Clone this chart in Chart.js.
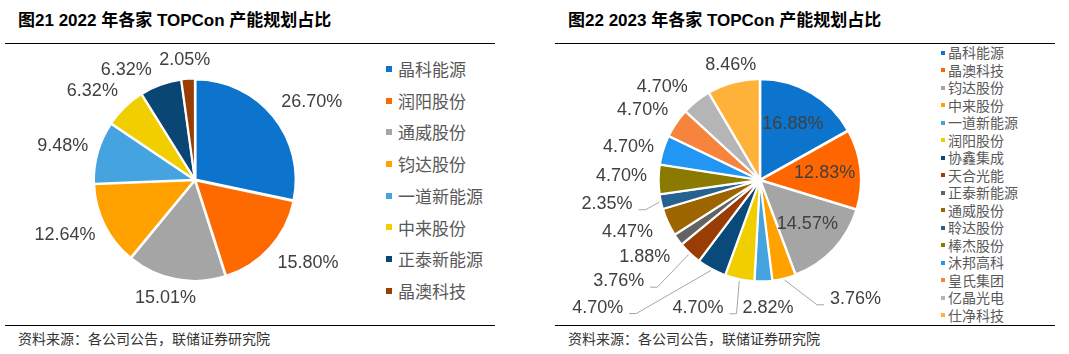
<!DOCTYPE html>
<html>
<head>
<meta charset="utf-8">
<script src="https://cdn.jsdelivr.net/npm/chart.js@4.4.1/dist/chart.umd.min.js"></script>
<style>
  body { margin: 0; background: #fff; width: 1069px; height: 354px; position: relative; overflow: hidden; }
  .title { position: absolute; top: 6px; font: bold 17px "Liberation Sans", "Noto Sans CJK SC", sans-serif; color: #000; white-space: nowrap; }
  .rule { position: absolute; height: 0; border-top: 1px solid #000; }
  .src { position: absolute; top: 328px; font: 14px "Noto Sans CJK SC", sans-serif; color: #333; white-space: nowrap; }
  .box { position: absolute; }
  .legend { position: absolute; font-family: "Noto Sans CJK SC", sans-serif; color: #595959; }
  .legend div { display: flex; align-items: center; white-space: nowrap; }
  .legend span { display: inline-block; }
</style>
</head>
<body>
<div class="title" style="left:18px">图21 2022 年各家 TOPCon 产能规划占比</div>
<div class="title" style="left:568px">图22 2023 年各家 TOPCon 产能规划占比</div>
<div class="rule" style="left:5px;width:490px;top:43px"></div>
<div class="rule" style="left:555px;width:500px;top:43px"></div>
<div class="rule" style="left:5px;width:490px;top:325px"></div>
<div class="rule" style="left:555px;width:500px;top:325px"></div>
<div class="src" style="left:18px">资料来源：各公司公告，联储证券研究院</div>
<div class="src" style="left:568px">资料来源：各公司公告，联储证券研究院</div>

<div class="box" style="left:0;top:45px;width:370px;height:275px"><canvas id="pie22"></canvas></div>
<div class="box" style="left:560px;top:45px;width:370px;height:275px"><canvas id="pie23"></canvas></div>
<div class="legend" id="leg22" style="left:386px;top:53px;font-size:17px;line-height:31.7px"></div>
<div class="legend" id="leg23" style="left:941px;top:44px;font-size:14px;line-height:17.5px"></div>

<script>
// 2022
var names22 = ['晶科能源', '润阳股份', '通威股份', '钧达股份', '一道新能源', '中来股份', '正泰新能源', '晶澳科技'];
var share22 = [26.70, 15.80, 15.01, 12.64, 9.48, 6.32, 6.32, 2.05];
var colors22 = ['#0C74CC', '#FF6A00', '#A5A5A5', '#FFA200', '#45A4E0', '#F0CE00', '#0A4674', '#9A3D05'];

// 2023
var names23 = ['晶科能源', '晶澳科技', '钧达股份', '中来股份', '一道新能源', '润阳股份', '协鑫集成', '天合光能',
               '正泰新能源', '通威股份', '聆达股份', '棒杰股份', '沐邦高科', '皇氏集团', '亿晶光电', '仕净科技'];
var share23 = [16.88, 12.83, 14.57, 3.76, 2.82, 4.70, 4.70, 3.76, 1.88, 4.47, 2.35, 4.70, 4.70, 4.70, 4.70, 8.46];
var colors23 = ['#0C74CC', '#FF6600', '#A5A5A5', '#FFA200', '#45A4E0', '#F0CE00', '#0A4A7A', '#9A3D05',
                '#636363', '#9C6500', '#25628F', '#8B7A00', '#2196F3', '#F7843C', '#B5B5B5', '#FFB23A'];

function clamp(v) { return Math.max(-1, Math.min(1, v)); }

// labels outside the slices (or inside the big ones), with leader lines when moved
var sliceLabels = {
  id: 'sliceLabels',
  afterDatasetsDraw: function (chart, args, opts) {
    var ctx = chart.ctx;
    var ds = chart.data.datasets[0];
    var meta = chart.getDatasetMeta(0);
    var total = ds.data.reduce(function (a, b) { return a + b; }, 0);
    ctx.save();
    ctx.font = '18px "Liberation Sans", Arial, sans-serif';
    ctx.textBaseline = 'middle';
    ctx.textAlign = 'center';
    meta.data.forEach(function (arc, i) {
      var p = arc.getProps(['x', 'y', 'startAngle', 'endAngle', 'outerRadius'], true);
      var mid = (p.startAngle + p.endAngle) / 2;
      var ux = Math.cos(mid), uy = Math.sin(mid);
      var R = p.outerRadius + ds.offset;
      var text = ds.data[i].toFixed(2) + '%';
      var w = ctx.measureText(text).width, h = 18;
      var cx, cy;
      if (ds.data[i] / total > opts.insideMin) {
        cx = p.x + ux * p.outerRadius * 0.65;
        cy = p.y + uy * p.outerRadius * 0.65;
      } else {
        var D = R + opts.pad;
        cx = p.x + ux * D + w / 2 * clamp(1.5 * ux);
        cy = p.y + uy * D + h / 2 * clamp(1.5 * uy);
        var n = opts.nudge[i];
        if (n) {
          cx += n[0];
          cy += n[1];
          if (n[2]) {
            var left = cx < p.x;
            var ax = left ? cx + w / 2 + 6 : cx - w / 2 - 6;
            var bx = left ? ax + 7 : ax - 7;
            var ay = cy + 6;
            ctx.strokeStyle = '#A6A6A6';
            ctx.lineWidth = 1;
            ctx.beginPath();
            ctx.moveTo(ax, ay);
            ctx.lineTo(bx, ay);
            ctx.lineTo(p.x + ux * R, p.y + uy * R);
            ctx.stroke();
          }
        }
      }
      ctx.fillStyle = '#404040';
      ctx.fillText(text, cx, cy);
    });
    ctx.restore();
  }
};

function makePie(id, names, values, colors, padLeft, nudge, insideMin) {
  return new Chart(document.getElementById(id), {
    type: 'pie',
    data: {
      labels: names,
      datasets: [{
        data: values,
        backgroundColor: colors,
        borderColor: '#fff',
        borderWidth: 2,
        offset: 3
      }]
    },
    options: {
      responsive: true,
      maintainAspectRatio: false,
      animation: false,
      radius: 100,
      layout: { padding: { left: padLeft, bottom: 5 } },
      plugins: {
        legend: { display: false },
        tooltip: { enabled: false },
        sliceLabels: { pad: 8, nudge: nudge, insideMin: insideMin }
      }
    },
    plugins: [sliceLabels]
  });
}

makePie('pie22', names22, share22, colors22, 20, { 6: [-18, 3] }, 2);
makePie('pie23', names23, share23, colors23, 30, {
  3: [60, 2, 1], 4: [3, 8], 5: [-32, 10, 1], 6: [-91, 21, 1], 7: [-39, 12, 1],
  8: [0, 4], 9: [-6, 0], 10: [-19, -3, 1], 11: [-2, -3], 12: [0, 4], 14: [-4, 2], 15: [10, 1]
}, 0.1);

function legend(id, names, colors, size, gap) {
  var el = document.getElementById(id);
  names.forEach(function (n, i) {
    var row = document.createElement('div');
    row.innerHTML = '<span style="width:' + size + 'px;height:' + size + 'px;background:' + colors[i] +
      ';margin-right:' + gap + 'px"></span>' + n;
    el.appendChild(row);
  });
}
legend('leg22', names22, colors22, 6, 6);
legend('leg23', names23, colors23, 4, 3);
</script>
</body>
</html>
